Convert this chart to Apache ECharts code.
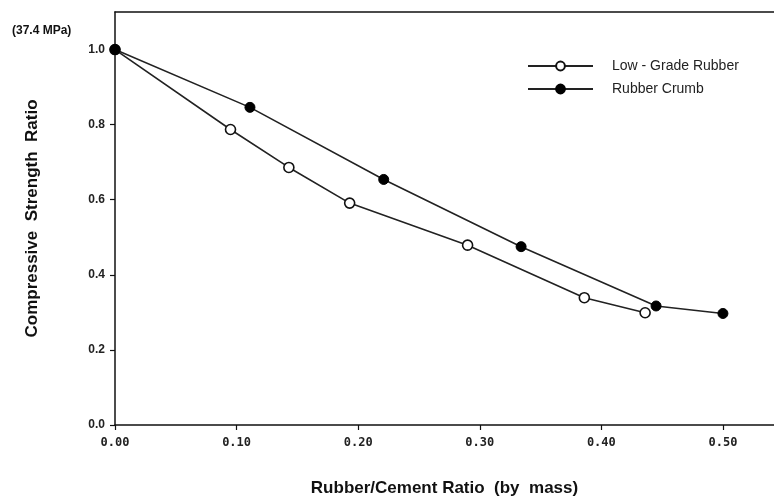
<!DOCTYPE html>
<html>
<head>
<meta charset="utf-8">
<script src="https://cdn.jsdelivr.net/npm/echarts@6/dist/echarts.min.js"></script>
<style>html,body{margin:0;padding:0;background:#fff}#c{width:774px;height:502px}</style>
</head>
<body>
<div id="c"></div>
<script>
// Data
var lowGradeX = [0.000, 0.095, 0.143, 0.193, 0.290, 0.386, 0.436];
var lowGradeY = [1.000, 0.787, 0.686, 0.591, 0.479, 0.339, 0.299];
var crumbX = [0.000, 0.111, 0.221, 0.334, 0.445, 0.500];
var crumbY = [1.000, 0.846, 0.654, 0.475, 0.317, 0.297];
var xTicks = [0, 0.1, 0.2, 0.3, 0.4, 0.5];
var yTicks = [0, 0.2, 0.4, 0.6, 0.8, 1.0];
var seriesNames = ['Low - Grade Rubber', 'Rubber Crumb'];

function pairs(xs, ys) { return xs.map(function (x, i) { return [x, ys[i]]; }); }

var chart = echarts.init(document.getElementById('c'), null, { renderer: 'canvas' });
chart.setOption({
  backgroundColor: '#fff',
  animation: false,
  grid: { left: 115, right: 0, top: 12, bottom: 77, show: false, outerBoundsMode: 'none' },
  graphic: [{
    type: 'text', left: 12, top: 25,
    style: { text: '(37.4 MPa)', font: 'bold 12px Arial, "Liberation Sans", sans-serif', fill: '#111' }
  }],
  legend: {
    orient: 'vertical', left: 522, top: 54, itemWidth: 65, itemHeight: 11, itemGap: 9,
    data: seriesNames,
    textStyle: { fontFamily: 'Arial, "Liberation Sans", sans-serif', fontSize: 14, color: '#222', padding: [0, 0, 0, 14] }
  },
  xAxis: [{
    type: 'value', min: 0, max: 0.542,
    name: 'Rubber/Cement Ratio  (by  mass)', nameLocation: 'middle', nameGap: 55,
    nameTextStyle: { fontFamily: 'Arial, "Liberation Sans", sans-serif', fontWeight: 'bold', fontSize: 17, color: '#111' },
    axisLine: { lineStyle: { color: '#111', width: 1.5 } },
    axisTick: { show: true, length: 5, customValues: xTicks, lineStyle: { color: '#111', width: 1.2 } },
    axisLabel: { customValues: xTicks, margin: 12, fontFamily: '"DejaVu Sans Mono", monospace', fontWeight: 'bold', fontSize: 12, color: '#222',
      formatter: function (v) { return v.toFixed(2); } },
    splitLine: { show: false }
  }, {
    type: 'value', position: 'top', min: 0, max: 0.542,
    axisLine: { show: true, lineStyle: { color: '#111', width: 1.5 } },
    axisTick: { show: false }, axisLabel: { show: false }, splitLine: { show: false }
  }],
  yAxis: {
    type: 'value', min: 0, max: 1.1,
    name: 'Compressive  Strength  Ratio', nameLocation: 'middle', nameGap: 74, nameRotate: 90,
    nameTextStyle: { fontFamily: 'Arial, "Liberation Sans", sans-serif', fontWeight: 'bold', fontSize: 17, color: '#111' },
    axisLine: { show: true, lineStyle: { color: '#111', width: 1.5 } },
    axisTick: { show: true, length: 5, customValues: yTicks, lineStyle: { color: '#111', width: 1.2 } },
    axisLabel: { customValues: yTicks, margin: 10, fontFamily: 'Arial, "Liberation Sans", sans-serif', fontWeight: 'bold', fontSize: 12, color: '#222',
      formatter: function (v) { return v.toFixed(1); } },
    splitLine: { show: false }
  },
  series: [{
    name: seriesNames[0], type: 'line', data: pairs(lowGradeX, lowGradeY),
    symbol: 'circle', symbolSize: 10, showAllSymbol: true,
    lineStyle: { color: '#222', width: 1.6 },
    itemStyle: { color: '#fff', borderColor: '#111', borderWidth: 1.6 }
  }, {
    name: seriesNames[1], type: 'line', data: pairs(crumbX, crumbY),
    symbol: 'circle', symbolSize: 10, showAllSymbol: true,
    lineStyle: { color: '#222', width: 1.6 },
    itemStyle: { color: '#000', borderColor: '#000', borderWidth: 1 }
  }]
});
</script>
</body>
</html>
